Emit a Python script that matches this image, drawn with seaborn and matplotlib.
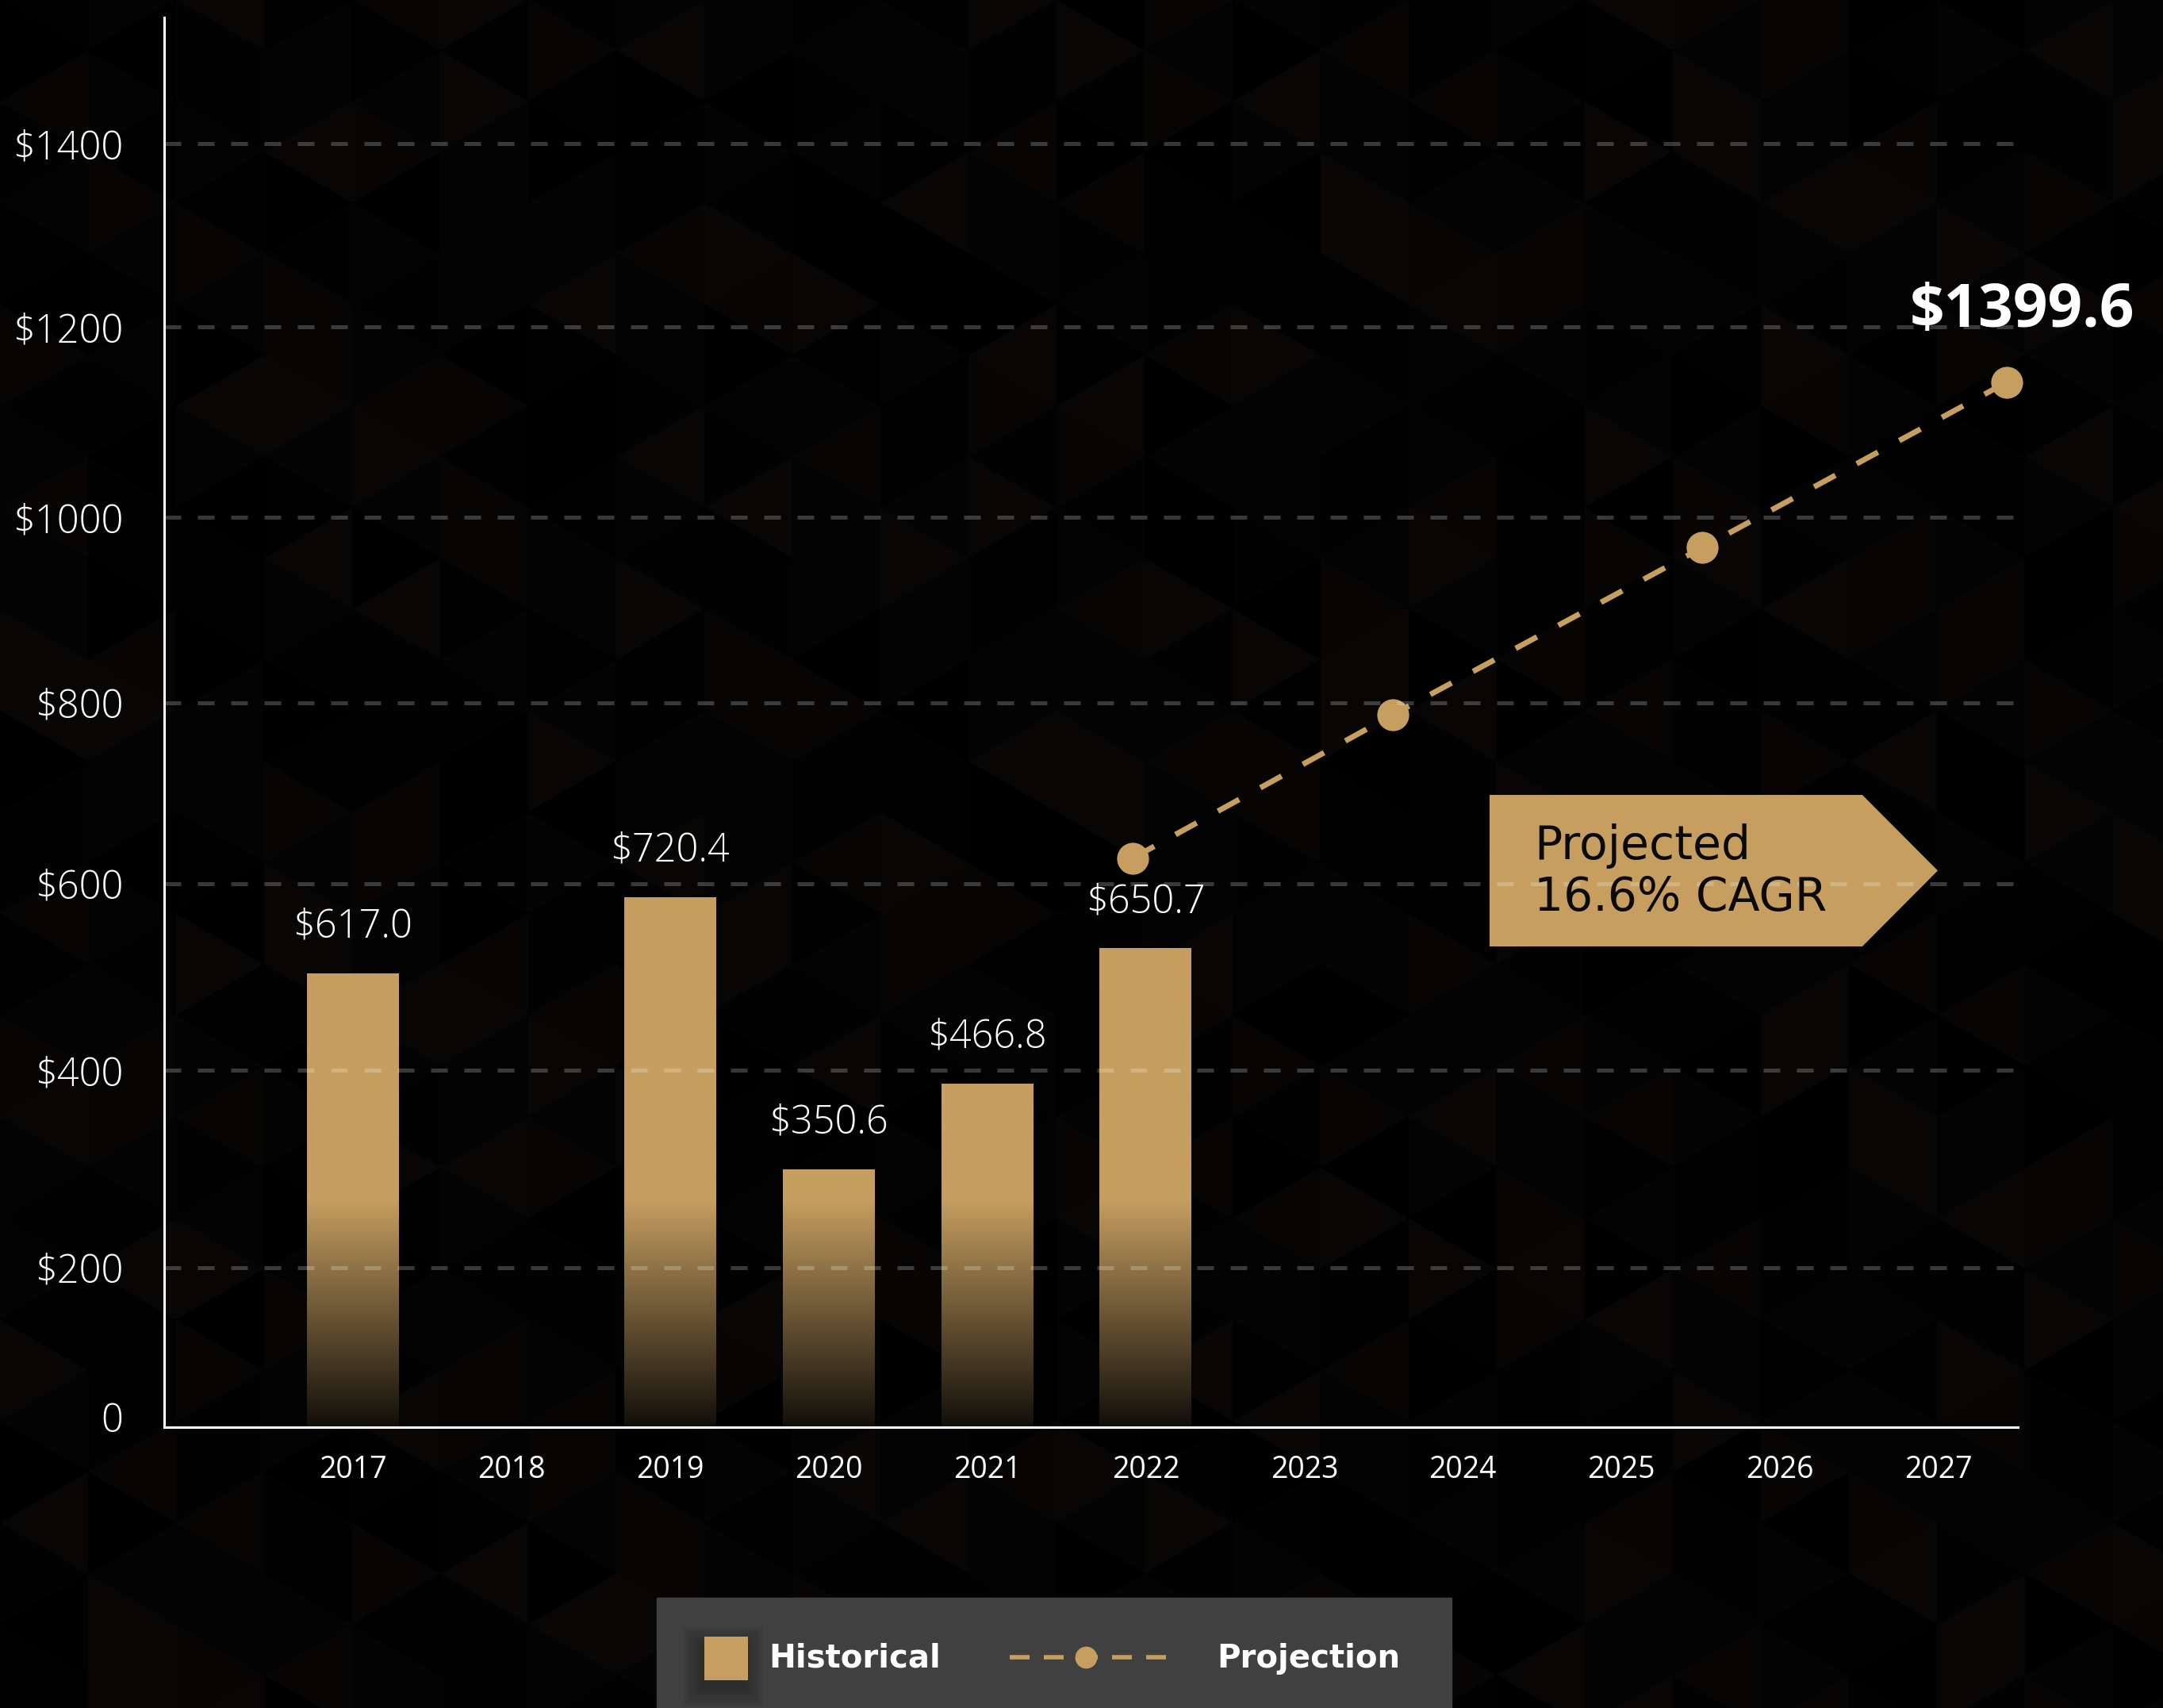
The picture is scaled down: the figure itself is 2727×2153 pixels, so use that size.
import numpy as np
import matplotlib
matplotlib.use("Agg")
import matplotlib.pyplot as plt
import seaborn as sns
from matplotlib.patches import Polygon, Rectangle
from matplotlib.collections import PolyCollection

# historical values (bars)
hist_years = [2017, 2019, 2020, 2021, 2022]
hist_values = [617.0, 720.4, 350.6, 466.8, 650.7]
hist_labels = ["$617.0", "$720.4", "$350.6", "$466.8", "$650.7"]

# projection points as drawn (same units as the bars)
proj_years = [2021.92, 2023.56, 2025.51, 2027.43]
proj_values = [774, 969, 1196, 1421]
proj_end_label = "$1399.6"

year_ticks = list(range(2017, 2028))
# y labels as printed on the chart, and where their grid lines sit
ytick_labels = ["0", "$200", "$400", "$600", "$800", "$1000", "$1200", "$1400"]
ytick_pos = [14, 217, 485, 739, 985, 1237, 1496, 1745]

cagr_text = "Projected\n16.6% CAGR"
legend_labels = ["Historical", "Projection"]

GOLD = "#C59E60"
W, H = 2727, 2153

sns.set_theme(style="white")
plt.rcParams["font.family"] = ["Open Sans", "DejaVu Sans"]

fig = plt.figure(figsize=(W / 100, H / 100), dpi=100, facecolor="#030303")

# background: faint dark triangle tiling + legend, in pixel coords
bg = fig.add_axes([0, 0, 1, 1], zorder=0)
bg.set_xlim(0, W)
bg.set_ylim(H, 0)
bg.axis("off")

tw, tl = 111, 128
pal = ["#000000", "#040303", "#060504", "#020202", "#080605", "#030303", "#010101"]
polys, cols = [], []
for c in range(W // tw + 2):
    x0, x1 = c * tw, (c + 1) * tw
    off = (c % 2) * tl / 2
    for r in range(-1, H // tl + 2):
        y = r * tl + off
        polys.append([(x0, y), (x0, y + tl), (x1, y + tl / 2)])
        cols.append(pal[(c * 5 + r * 3 + (c * r) % 4) % len(pal)])
        polys.append([(x1, y + tl / 2), (x1, y + 1.5 * tl), (x0, y + tl)])
        cols.append(pal[(c * 3 + r * 5 + 2 + (c + r) % 3) % len(pal)])
bg.add_collection(PolyCollection(polys, facecolors=cols, edgecolors=cols, linewidths=0.5))

# legend box
bg.add_patch(Rectangle((828, 2014), 1002, 150, color="#404040", zorder=2))
for i in range(8):
    g = 2 + i * 3
    bg.add_patch(Rectangle((888 - g - 4, 2073 - g), 55 + 2 * g, 55 + 2 * g,
                           color="black", alpha=0.035, lw=0, zorder=3))
bg.add_patch(Rectangle((888, 2063), 55, 55, color=GOLD, lw=0, zorder=4))
bg.text(969, 2102, legend_labels[0], fontsize=29, fontweight="bold", color="white",
        va="baseline", family=["DejaVu Sans"], zorder=4)
bg.plot([1273, 1471], [2089, 2089], color=GOLD, lw=4, linestyle=(0, (4.5, 3.24)),
        dash_capstyle="butt", zorder=4)
bg.plot([1369], [2089], marker="o", ms=20, mew=0, color=GOLD, zorder=5)
bg.text(1534, 2102, legend_labels[1], fontsize=29, fontweight="bold", color="white",
        va="baseline", family=["DejaVu Sans"], zorder=4)

# main chart
ax = fig.add_axes([207 / W, 1 - 1799 / H, 2337 / W, 1777 / H], zorder=1)
ax.set_facecolor("none")

sns.barplot(x=hist_years, y=hist_values, native_scale=True, width=0.58,
            color=GOLD, saturation=1, linewidth=0, edgecolor="none", ax=ax)

# vertical fade towards the baseline
gold_rgb = np.array(matplotlib.colors.to_rgb(GOLD))
dark_rgb = np.array([0.03, 0.025, 0.02])
for p in ax.patches:
    x0, w, h = p.get_x(), p.get_width(), p.get_height()
    yy = np.linspace(0, h, 400)
    t = np.clip(0.05 + yy / 325, 0, 1)[:, None]
    img = (dark_rgb * (1 - t) + gold_rgb * t)[:, None, :]
    ax.imshow(img, extent=(x0, x0 + w, 0, h), origin="lower", aspect="auto",
              interpolation="bilinear", zorder=1.5)

ax.bar_label(ax.containers[0], labels=hist_labels, padding=24, color="white",
             fontsize=35, fontweight="light")

sns.lineplot(x=proj_years, y=proj_values, ax=ax, color=GOLD, lw=5,
             linestyle=(0, (4.4, 4.4)), dash_capstyle="butt",
             marker="o", markersize=29, markeredgewidth=0, clip_on=False)

ax.annotate(proj_end_label, xy=(proj_years[-1], proj_values[-1]), xytext=(14, 50),
            textcoords="offset points", ha="center", va="baseline", fontsize=55,
            fontweight="bold", color="white", annotation_clip=False, zorder=4)

# CAGR arrow tag
tag = Polygon([(0.715, 0.341), (0.715, 0.4485), (0.9161, 0.4485), (0.9568, 0.3948),
               (0.9161, 0.341)], closed=True, transform=ax.transAxes,
              facecolor=GOLD, edgecolor="none", zorder=1)
ax.add_patch(tag)
ax.text(0.739, 0.394, cagr_text, transform=ax.transAxes, ha="left", va="center",
        fontsize=42, color="#0a0a0a", linespacing=1.18, family=["DejaVu Sans"], zorder=4)

ax.set_xlim(2015.81, 2027.5)
ax.set_ylim(0, 1917)
ax.set_xticks(year_ticks)
ax.set_xticklabels([str(y) for y in year_ticks])
ax.set_yticks(ytick_pos)
ax.set_yticklabels(ytick_labels)
ax.set_xlabel("")
ax.set_ylabel("")
ax.tick_params(axis="x", length=0, pad=25, labelsize=27, labelcolor="white")
ax.tick_params(axis="y", length=0, pad=37, labelsize=35, labelcolor="white")
for lab in ax.get_yticklabels():
    lab.set_fontweight("light")

for side in ["top", "right"]:
    ax.spines[side].set_visible(False)
for side in ["left", "bottom"]:
    ax.spines[side].set_color("white")
    ax.spines[side].set_linewidth(2.2)

ax.set_axisbelow(False)
ax.xaxis.grid(False)
ax.yaxis.grid(True, color="white", alpha=0.22, lw=3.6, linestyle=(0, (4.2, 4.2)))
ax.yaxis.get_major_ticks()[0].gridline.set_visible(False)

fig.savefig("out.png", dpi=100, facecolor=fig.get_facecolor())
